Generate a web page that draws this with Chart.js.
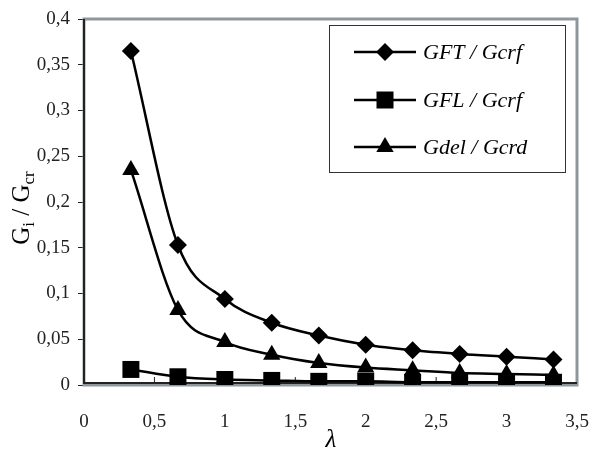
<!DOCTYPE html>
<html>
<head>
<meta charset="UTF-8">
<title>Gi / Gcr</title>
<script src="https://cdn.jsdelivr.net/npm/chart.js"></script>
<style>
    html, body { margin: 0; padding: 0; background: #fff; }
    #wrap { width: 592px; height: 452px; position: relative; }
</style>
</head>
<body>
<div id="wrap"><canvas id="chart"></canvas></div>
<script>
    // lambda values (x axis)
    const lambdas = [0.333, 0.667, 1, 1.333, 1.667, 2, 2.333, 2.667, 3, 3.333];

    // series
    const gft  = [0.365, 0.153, 0.094, 0.068, 0.054, 0.044, 0.038, 0.034, 0.031, 0.028];
    const gfl  = [0.017, 0.009, 0.006, 0.005, 0.004, 0.004, 0.003, 0.003, 0.003, 0.003];
    const gdel = [0.235, 0.082, 0.047, 0.033, 0.024, 0.019, 0.016, 0.013, 0.012, 0.011];

    const seriesNames = ['GFT / Gcrf', 'GFL / Gcrf', 'Gdel / Gcrd'];
    const seriesStyles = ['rectRot', 'rect', 'triangle'];

    const serif = '"Liberation Serif", "DejaVu Serif", serif';

    function pts(vals) {
        return vals.map((v, i) => ({ x: lambdas[i], y: v }));
    }

    function fmt(v) {
        return String(Math.round(v * 100) / 100).replace('.', ',');
    }

    // little marker shapes for the legend
    function marker(ctx, style, x, y) {
        ctx.beginPath();
        if (style === 'rectRot') {
            ctx.moveTo(x - 9, y); ctx.lineTo(x, y - 9);
            ctx.lineTo(x + 9, y); ctx.lineTo(x, y + 9);
        } else if (style === 'rect') {
            ctx.rect(x - 8.5, y - 8.5, 17, 17);
        } else {
            ctx.moveTo(x, y - 10); ctx.lineTo(x + 8.7, y + 5);
            ctx.lineTo(x - 8.7, y + 5);
        }
        ctx.closePath();
        ctx.fill();
    }

    const framePlugin = {
        id: 'frame',
        beforeDatasetsDraw(chart) {
            const { ctx, chartArea: a, scales } = chart;
            ctx.save();
            // grey frame
            ctx.strokeStyle = '#8e979c';
            ctx.lineWidth = 3;
            ctx.strokeRect(a.left, a.top, a.right - a.left, a.bottom - a.top);
            // dark axes
            ctx.strokeStyle = '#222';
            ctx.lineWidth = 2;
            ctx.beginPath();
            ctx.moveTo(a.left, a.top);
            ctx.lineTo(a.left, a.bottom - 2);
            ctx.lineTo(a.right, a.bottom - 2);
            ctx.stroke();
            // inward x ticks
            ctx.lineWidth = 1;
            for (let v = 0.5; v < 3.5; v += 0.5) {
                const px = scales.x.getPixelForValue(v);
                ctx.beginPath();
                ctx.moveTo(px, a.bottom - 2);
                ctx.lineTo(px, a.bottom - 8);
                ctx.stroke();
            }
            ctx.restore();
        },
        afterDraw(chart) {
            const { ctx } = chart;
            ctx.save();
            // legend
            ctx.fillStyle = '#fff';
            ctx.fillRect(329, 25, 236, 147);
            ctx.strokeStyle = '#333';
            ctx.lineWidth = 1;
            ctx.strokeRect(329.5, 25.5, 236, 147);
            const rows = [52, 100, 147];
            ctx.font = 'italic 22px ' + serif;
            ctx.textBaseline = 'middle';
            ctx.textAlign = 'left';
            rows.forEach((ry, i) => {
                ctx.strokeStyle = '#000';
                ctx.fillStyle = '#000';
                ctx.lineWidth = 2.5;
                ctx.beginPath();
                ctx.moveTo(354, ry);
                ctx.lineTo(416, ry);
                ctx.stroke();
                marker(ctx, seriesStyles[i], 385, ry);
                ctx.fillText(seriesNames[i], 423, ry + 1);
            });

            // x title
            ctx.font = 'italic 25px ' + serif;
            ctx.textAlign = 'center';
            ctx.textBaseline = 'alphabetic';
            ctx.fillText('\u03bb', 331, 447);

            // y title with subscripts
            ctx.translate(29, 208);
            ctx.rotate(-Math.PI / 2);
            const parts = [
                ['G', 25, 0], ['i', 17, 5], [' / ', 25, 0], ['G', 25, 0], ['cr', 17, 5]
            ];
            let total = 0;
            parts.forEach(p => {
                ctx.font = p[1] + 'px ' + serif;
                total += ctx.measureText(p[0]).width;
            });
            let x = -total / 2;
            ctx.textAlign = 'left';
            parts.forEach(p => {
                ctx.font = p[1] + 'px ' + serif;
                ctx.fillText(p[0], x, p[2]);
                x += ctx.measureText(p[0]).width;
            });
            ctx.restore();
        }
    };

    function ds(label, vals, style, radius) {
        return {
            label: label,
            data: pts(vals),
            borderColor: '#000',
            backgroundColor: '#000',
            borderWidth: 2.5,
            pointStyle: style,
            pointRadius: radius,
            pointHoverRadius: radius,
            pointBorderWidth: 0,
            tension: 0.4,
            cubicInterpolationMode: 'monotone',
            fill: false
        };
    }

    new Chart(document.getElementById('chart'), {
        type: 'line',
        data: {
            datasets: [
                ds(seriesNames[0], gft, 'rectRot', 9),
                ds(seriesNames[2], gdel, 'triangle', 10),
                ds(seriesNames[1], gfl, 'rect', 12)
            ]
        },
        options: {
            responsive: true,
            maintainAspectRatio: false,
            animation: false,
            layout: { padding: { left: 0, right: 15, top: 19, bottom: 0 } },
            plugins: {
                legend: { display: false },
                tooltip: { enabled: false }
            },
            scales: {
                x: {
                    type: 'linear',
                    min: 0,
                    max: 3.5,
                    grid: { display: false },
                    border: { display: false },
                    ticks: {
                        stepSize: 0.5,
                        padding: 18,
                        color: '#222',
                        font: { family: serif, size: 19 },
                        maxRotation: 0,
                        callback: v => fmt(v)
                    },
                    afterFit(scale) {
                        scale.height = 67;
                        scale.paddingLeft = 0;
                        scale.paddingRight = 0;
                    }
                },
                y: {
                    min: 0,
                    max: 0.4,
                    grid: {
                        drawOnChartArea: false,
                        drawTicks: true,
                        tickLength: 6,
                        color: '#222',
                        lineWidth: 1
                    },
                    border: { display: false },
                    ticks: {
                        stepSize: 0.05,
                        padding: 8,
                        color: '#222',
                        font: { family: serif, size: 19 },
                        callback: v => fmt(v)
                    },
                    afterFit(scale) {
                        scale.width = 84;
                        scale.paddingTop = 0;
                        scale.paddingBottom = 0;
                    }
                }
            }
        },
        plugins: [framePlugin]
    });
</script>
</body>
</html>
